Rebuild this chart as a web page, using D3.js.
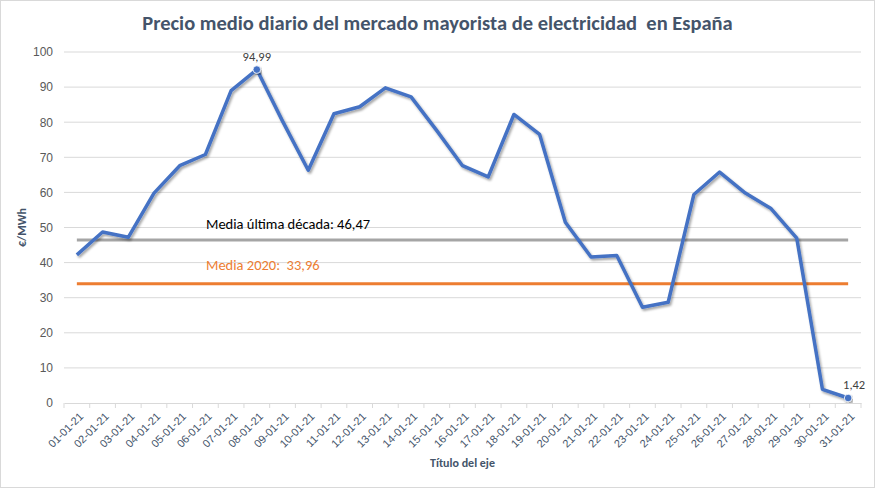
<!DOCTYPE html>
<html>
<head>
<meta charset="utf-8">
<script src="https://cdn.jsdelivr.net/npm/d3@7"></script>
<style>
  body { margin: 0; background: #fff; }
  svg { display: block; font-family: Carlito, Calibri, Lato, 'Open Sans', sans-serif; }
</style>
</head>
<body>
<div class="chart"></div>
<script>
const days = ['01-01-21', '02-01-21', '03-01-21', '04-01-21', '05-01-21', '06-01-21', '07-01-21', '08-01-21',
  '09-01-21', '10-01-21', '11-01-21', '12-01-21', '13-01-21', '14-01-21', '15-01-21', '16-01-21',
  '17-01-21', '18-01-21', '19-01-21', '20-01-21', '21-01-21', '22-01-21', '23-01-21', '24-01-21',
  '25-01-21', '26-01-21', '27-01-21', '28-01-21', '29-01-21', '30-01-21', '31-01-21']
const prices = [42.2, 48.7, 47.2, 59.8, 67.6, 70.8, 89.0, 94.99, 80.3, 66.3, 82.4, 84.4, 89.8, 87.2, 77.6, 67.6,
  64.4, 82.2, 76.5, 51.5, 41.6, 42.0, 27.3, 28.7, 59.4, 65.8, 59.8, 55.4, 47.0, 3.9, 1.42]
const yTicks = [0, 10, 20, 30, 40, 50, 60, 70, 80, 90, 100]
const mediaDecada = 46.47
const media2020 = 33.96
const labelled = ['08-01-21', '31-01-21']

const w = 875
const h = 488
const margin = { left: 64, right: 14, top: 52, bottom: 85 }
const fmt = v => String(v).replace('.', ',')

const svg = d3.select('.chart').append('svg').attr('width', w).attr('height', h)

svg.append('rect')
  .attr('x', 0.5).attr('y', 0.5)
  .attr('width', w - 1).attr('height', h - 1)
  .attr('fill', '#fff').attr('stroke', '#d9d9d9')

const defs = svg.append('defs')
const shadow = defs.append('filter').attr('id', 'shadow')
  .attr('x', '-5%').attr('y', '-5%').attr('width', '110%').attr('height', '115%')
shadow.append('feDropShadow')
  .attr('dx', 1.5).attr('dy', 2).attr('stdDeviation', 1.3)
  .attr('flood-color', '#000').attr('flood-opacity', 0.35)

const x = d3.scaleBand().domain(days).range([margin.left, w - margin.right])
const y = d3.scaleLinear().domain([0, 100]).range([h - margin.bottom, margin.top])
const cx = d => x(d) + x.bandwidth() / 2

// gridlines
svg.append('g')
  .selectAll('line')
  .data(yTicks.slice(1))
  .enter()
  .append('line')
  .attr('x1', margin.left).attr('x2', w - margin.right)
  .attr('y1', d => y(d)).attr('y2', d => y(d))
  .attr('stroke', '#d9d9d9').attr('stroke-width', 1)

// y axis
const yAxis = svg.append('g')
  .attr('transform', `translate(${margin.left},0)`)
  .call(d3.axisLeft(y).tickValues(yTicks).tickSize(0).tickPadding(11))
yAxis.select('.domain').remove()
yAxis.selectAll('text').attr('fill', '#595959').style('font-size', '12px')

// x axis
const xAxis = svg.append('g')
  .attr('transform', `translate(0,${y(0)})`)
  .call(d3.axisBottom(x).tickSize(0))
xAxis.select('.domain').attr('stroke', '#d9d9d9')
xAxis.selectAll('.tick line').remove()
xAxis.append('g')
  .selectAll('line')
  .data(d3.range(days.length + 1))
  .enter()
  .append('line')
  .attr('x1', i => margin.left + i * x.step())
  .attr('x2', i => margin.left + i * x.step())
  .attr('y1', 0).attr('y2', 5)
  .attr('stroke', '#d9d9d9')
xAxis.selectAll('.tick text')
  .attr('fill', '#44546a')
  .style('font-size', '11px')
  .attr('text-anchor', 'end')
  .attr('dy', 0)
  .attr('transform', 'translate(5,12) rotate(-45)')

// axis titles
svg.append('text')
  .attr('x', (margin.left + w - margin.right) / 2)
  .attr('y', 467)
  .attr('text-anchor', 'middle')
  .attr('fill', '#44546a')
  .style('font-size', '12px').style('font-weight', 'bold')
  .text('Título del eje')

svg.append('text')
  .attr('transform', `translate(26,${y(50)}) rotate(-90)`)
  .attr('text-anchor', 'middle')
  .attr('fill', '#44546a')
  .style('font-size', '12px').style('font-weight', 'bold')
  .text('€/MWh')

// title
svg.append('text')
  .attr('x', w / 2)
  .attr('y', 30)
  .attr('text-anchor', 'middle')
  .attr('fill', '#44546a')
  .style('font-size', '20.5px').style('font-weight', 'bold')
  .style('white-space', 'pre')
  .text('Precio medio diario del mercado mayorista de electricidad  en España')

// reference lines
const refs = [
  { v: mediaDecada, color: '#a5a5a5', label: `Media última década: ${fmt(mediaDecada)}`, text: '#000', dy: -11 },
  { v: media2020, color: '#ed7d31', label: `Media 2020:  ${fmt(media2020)}`, text: '#ed7d31', dy: -14 }
]
refs.forEach(r => {
  svg.append('line')
    .attr('x1', cx(days[0])).attr('x2', cx(days[days.length - 1]))
    .attr('y1', y(r.v)).attr('y2', y(r.v))
    .attr('stroke', r.color).attr('stroke-width', 3)
  svg.append('text')
    .attr('x', 206)
    .attr('y', y(r.v) + r.dy)
    .attr('fill', r.text)
    .style('font-size', '14.5px')
    .style('white-space', 'pre')
    .text(r.label)
})

// price line
const line = d3.line().x((d, i) => cx(days[i])).y(d => y(d))
svg.append('path')
  .datum(prices)
  .attr('d', line)
  .attr('fill', 'none')
  .attr('stroke', '#4472c4')
  .attr('stroke-width', 3.5)
  .attr('stroke-linejoin', 'round')
  .attr('filter', 'url(#shadow)')

const marked = labelled.map(d => ({ day: d, v: prices[days.indexOf(d)] }))
svg.selectAll('.marker')
  .data(marked)
  .enter()
  .append('circle')
  .attr('class', 'marker')
  .attr('cx', d => cx(d.day))
  .attr('cy', d => y(d.v))
  .attr('r', 3.8)
  .attr('fill', '#4472c4')
  .attr('stroke', '#fff').attr('stroke-width', 0.8)
  .attr('filter', 'url(#shadow)')

svg.selectAll('.marker-label')
  .data(marked)
  .enter()
  .append('text')
  .attr('class', 'marker-label')
  .attr('x', d => cx(d.day) + (d.v < 10 ? 6 : 0))
  .attr('y', d => y(d.v) - 9)
  .attr('text-anchor', 'middle')
  .attr('fill', '#404040')
  .style('font-size', '12.5px')
  .text(d => fmt(d.v))
</script>
</body>
</html>
